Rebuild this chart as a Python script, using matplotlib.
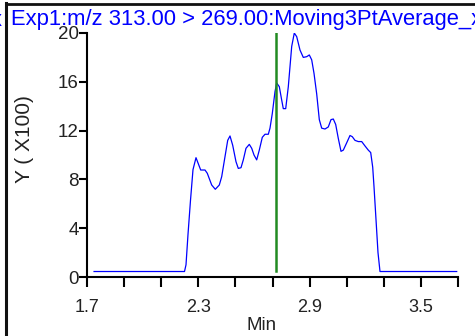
import matplotlib
matplotlib.use("Agg")
import matplotlib.pyplot as plt
from matplotlib.lines import Line2D

plt.rcParams['font.family'] = ['Liberation Sans', 'DejaVu Sans']

# Data (time in min, intensity in x100)
time = [1.738, 2.2256, 2.2337, 2.2445, 2.2580, 2.2714, 2.2876, 2.3129, 2.3361, 2.3485,
        2.3722, 2.3916, 2.4132, 2.4261, 2.4439, 2.4585, 2.4709, 2.4854, 2.5032, 2.5156,
        2.5302, 2.5426, 2.5571, 2.5749, 2.5879, 2.6003, 2.6148, 2.6288, 2.6450, 2.6596,
        2.6774, 2.6865, 2.6989, 2.7135, 2.7226, 2.7367, 2.7496, 2.7582, 2.7712, 2.7852,
        2.8035, 2.8175, 2.8305, 2.8483, 2.8660, 2.8844, 2.8984, 2.9113, 2.9237, 2.9383,
        2.9523, 2.9652, 2.9830, 3.0008, 3.0154, 3.0278, 3.0407, 3.0547, 3.0693, 3.0817,
        3.1000, 3.1178, 3.1302, 3.1447, 3.1625, 3.1809, 3.1987, 3.2164, 3.2294, 3.2402,
        3.2472, 3.2580, 3.2687, 3.2795, 3.6930]
intensity = [0.45, 0.45, 1.0, 3.5, 6.3, 8.8, 9.78, 8.77, 8.77, 8.5,
             7.54, 7.19, 7.54, 8.22, 9.86, 11.2, 11.56, 10.8, 9.45, 8.9,
             8.96, 9.6, 10.55, 10.87, 10.55, 10.0, 9.6, 10.4, 11.45, 11.7,
             11.7, 12.2, 13.4, 15.2, 15.9, 15.6, 14.5, 13.8, 13.8, 15.6,
             18.9, 20.0, 19.7, 18.6, 18.0, 18.06, 18.2, 17.8, 16.7, 15.0,
             12.9, 12.2, 12.13, 12.3, 12.9, 12.95, 12.5, 11.36, 10.3, 10.4,
             11.0, 11.6, 11.5, 11.2, 11.1, 11.1, 10.74, 10.4, 10.2, 9.0,
             7.4, 4.7, 2.0, 0.45, 0.45]
marker_time = 2.719
marker_range = [0.5, 20.0]

x_ticks = [1.7, 1.9, 2.1, 2.3, 2.5, 2.7, 2.9, 3.1, 3.3, 3.5, 3.7]
x_labels = ['1.7', '', '', '2.3', '', '', '2.9', '', '', '3.5', '']
y_ticks = [0, 4, 8, 12, 16, 20]
y_labels = ['0', '4', '8', '12', '16', '20']

title = "Exp1:m/z 313.00 > 269.00:Moving3PtAverage_x"

W, H = 475, 336
fig = plt.figure(figsize=(W / 100, H / 100), dpi=100)
ax = fig.add_axes([87 / W, 1 - 277 / H, (458 - 87) / W, (277 - 33) / H])

ax.plot(time, intensity, color='#0000ff', linewidth=0.9)
ax.plot([marker_time, marker_time], marker_range, color='#228b22', linewidth=1.8)

ax.set_xlim(1.7, 3.7)
ax.set_ylim(0, 20)
ax.set_xticks(x_ticks)
ax.set_xticklabels(x_labels)
ax.set_yticks(y_ticks)
ax.set_yticklabels(y_labels)

for s in ['top', 'right']:
    ax.spines[s].set_visible(False)
for s in ['left', 'bottom']:
    ax.spines[s].set_linewidth(1.5)
    ax.spines[s].set_color('black')

ax.tick_params(axis='x', direction='out', length=7.5, width=1.5, labelsize=13,
               pad=8, colors='black', labelcolor='#222222')
ax.tick_params(axis='y', direction='out', length=6, width=1.5, labelsize=13.5,
               pad=0, colors='black', labelcolor='#222222')

fig.text(262 / W, 1 - 325 / H, 'Min', ha='center', va='center', fontsize=13.5, color='#222222')
fig.text(24 / W, 1 - 139 / H, 'Y ( X100)', ha='center', va='center', rotation=90,
         fontsize=15, color='#222222')

fig.text(11 / W, 1 - 20 / H, title, ha='left', va='center', fontsize=15.8, color='#0000ff')
fig.text(2 / W, 1 - 20 / H, 'x', ha='right', va='center', fontsize=15.8, color='#0000ff')

# frame lines
fig.add_artist(Line2D([5.5 / W, 5.5 / W], [0, 1 - 3 / H], transform=fig.transFigure,
                      color='#111111', linewidth=2.2))
fig.add_artist(Line2D([5.5 / W, 1], [1 - 3.5 / H, 1 - 3.5 / H], transform=fig.transFigure,
                      color='#111111', linewidth=2.0))

fig.savefig('out.png', dpi=100)
